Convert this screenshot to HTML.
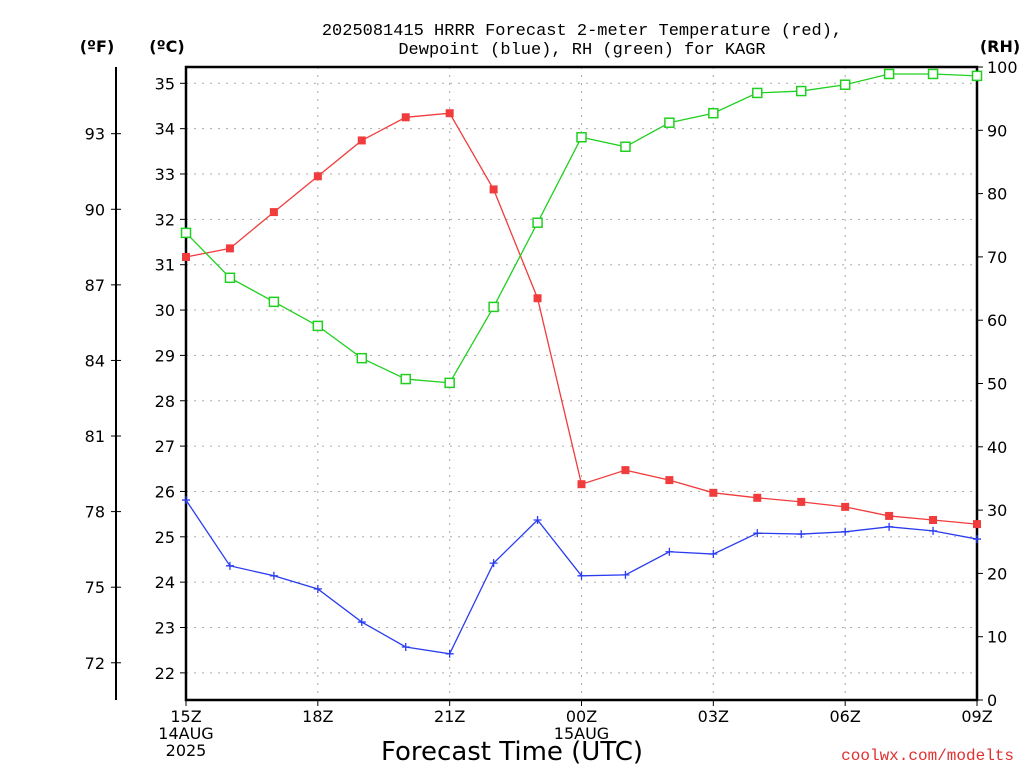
<!DOCTYPE html>
<html><head><meta charset="utf-8"><style>
body{margin:0;background:#fff;}
svg text{font-family:"DejaVu Sans","Liberation Sans",sans-serif;}
svg text.mono{font-family:"Liberation Mono",monospace;}
</style></head><body>
<svg id="chart" width="1024" height="768" xmlns="http://www.w3.org/2000/svg">
<g id="grid"></g>
<g id="axes"></g>
<g id="series"></g>
<text class="mono" x="582" y="35" text-anchor="middle" font-size="17">2025081415 HRRR Forecast 2-meter Temperature (red),</text>
<text class="mono" x="582" y="54" text-anchor="middle" font-size="17">Dewpoint (blue), RH (green) for KAGR</text>
<text x="97" y="52" text-anchor="middle" font-size="16" font-weight="bold">(ºF)</text>
<text x="167" y="52" text-anchor="middle" font-size="16" font-weight="bold">(ºC)</text>
<text x="1000" y="52" text-anchor="middle" font-size="16" font-weight="bold">(RH)</text>
<text x="512" y="760" text-anchor="middle" font-size="26">Forecast Time (UTC)</text>
<text class="mono" x="1014" y="760" text-anchor="end" font-size="16" fill="#e03030">coolwx.com/modelts</text>
</svg>
<script>
const hours=[0,1,2,3,4,5,6,7,8,9,10,11,12,13,14,15,16,17,18];
const tempC=[31.17,31.36,32.16,32.95,33.74,34.25,34.34,32.66,30.26,26.16,26.47,26.25,25.97,25.86,25.77,25.66,25.46,25.37,25.28];
const dewC=[25.81,24.36,24.14,23.85,23.12,22.57,22.42,24.42,25.37,24.14,24.16,24.67,24.62,25.08,25.06,25.11,25.22,25.13,24.95];
const rh=[73.8,66.7,62.9,59.1,54.0,50.7,50.1,62.1,75.4,88.9,87.4,91.2,92.7,95.9,96.2,97.2,98.9,98.9,98.6];
const cTicks=[22,23,24,25,26,27,28,29,30,31,32,33,34,35];
const fTicks=[72,75,78,81,84,87,90,93];
const rhTicks=[0,10,20,30,40,50,60,70,80,90,100];
const xLabels=[["15Z","14AUG","2025"],["18Z"],["21Z"],["00Z","15AUG"],["03Z"],["06Z"],["09Z"]];
const L=186,R=977,T=67,B=700;
const NS="http://www.w3.org/2000/svg";
const x=h=>L+(R-L)*h/18;
const yC=c=>83.3+(35-c)*45.35;
const yF=f=>yC((f-32)/1.8);
const yR=r=>B-(B-T)*r/100;
function mk(p,tag,a){const e=document.createElementNS(NS,tag);for(const k in a)e.setAttribute(k,a[k]);p.appendChild(e);return e;}
const grid=document.getElementById('grid'),axes=document.getElementById('axes'),ser=document.getElementById('series');
cTicks.forEach(c=>{const y=yC(c);
 const g=mk(grid,'line',{x1:L,x2:R,y1:y,y2:y,stroke:'#aaa','stroke-dasharray':'2,6'});
 
 mk(axes,'line',{x1:L-6,x2:L,y1:y,y2:y,stroke:'#000'});
 const t=mk(axes,'text',{x:L-11,y:y+6,'text-anchor':'end','font-size':16});t.textContent=c;
 });
fTicks.forEach(f=>{const y=yF(f);
 mk(axes,'line',{x1:111,x2:121,y1:y,y2:y,stroke:'#000'});
 const t=mk(axes,'text',{x:105,y:y+6,'text-anchor':'end','font-size':16});t.textContent=f;
 });
rhTicks.forEach(r=>{const y=yR(r);
 mk(axes,'line',{x1:R,x2:R+6,y1:y,y2:y,stroke:'#000'});
 const t=mk(axes,'text',{x:R+10,y:y+6,'font-size':16});t.textContent=r;
 });
xLabels.forEach((lb,i)=>{const xx=x(i*3);
 if(i>0&&i<6){const g=mk(grid,'line',{x1:xx,x2:xx,y1:T,y2:B,stroke:'#aaa','stroke-dasharray':'2,6'});
 }
 mk(axes,'line',{x1:xx,x2:xx,y1:B,y2:B+6,stroke:'#000'});
 lb.forEach((s,j)=>{const t=mk(axes,'text',{x:xx,y:B+22+j*17,'text-anchor':'middle','font-size':16});t.textContent=s;
 });});
const fr=mk(axes,'rect',{x:L,y:T,width:R-L,height:B-T,fill:'none',stroke:'#000','stroke-width':2.5});

const fa=mk(axes,'line',{x1:116,x2:116,y1:T,y2:B,stroke:'#000','stroke-width':2});

function line(vals,yf,col,name){const pts=vals.map((v,i)=>x(hours[i])+','+yf(v)).join(' ');
 const p=mk(ser,'polyline',{points:pts,fill:'none',stroke:col,'stroke-width':1.3});
 }
line(tempC,yC,'#f03c3c','temperature-line');
line(dewC,yC,'#2a3cf0','dewpoint-line');
line(rh,yR,'#20d020','rh-line');
tempC.forEach((v,i)=>{const r=mk(ser,'rect',{x:x(hours[i])-4,y:yC(v)-4,width:8,height:8,fill:'#f03c3c'});
 });
dewC.forEach((v,i)=>{const cx=x(hours[i]),cy=yC(v);
 const p=mk(ser,'path',{d:`M${cx-4},${cy}H${cx+4}M${cx},${cy-4}V${cy+4}`,stroke:'#2a3cf0','stroke-width':1.3});
 });
rh.forEach((v,i)=>{const r=mk(ser,'rect',{x:x(hours[i])-4.5,y:yR(v)-4.5,width:9,height:9,fill:'#fff',stroke:'#20d020','stroke-width':1.5});
 });
</script>
</body></html>
